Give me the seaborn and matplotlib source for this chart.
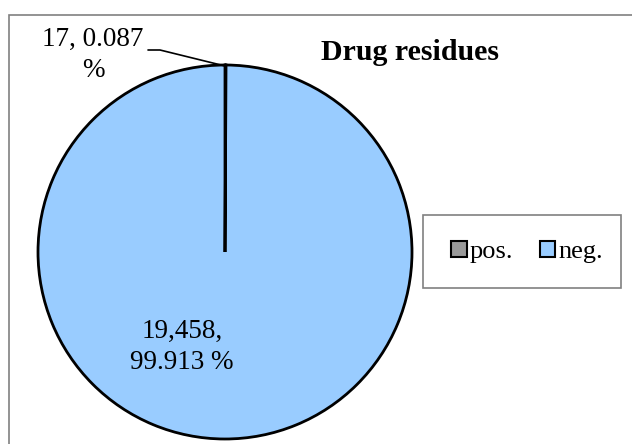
import matplotlib
matplotlib.use("Agg")
import matplotlib.pyplot as plt
from matplotlib.patches import Patch, Rectangle
import seaborn as sns

# Drug residue test results
categories = ["pos.", "neg."]
counts = [17, 19458]
percents = [0.087, 99.913]
colors = ["#999999", "#99CCFF"]

sns.set_theme(style="white")
plt.rcParams["font.family"] = ["Liberation Serif", "DejaVu Serif"]
plt.rcParams["text.color"] = "black"

W, H = 632, 444
fig = plt.figure(figsize=(W / 100, H / 100), dpi=100)

# outer chart frame
fig.patches.append(Rectangle((9 / W, -0.1), 1.2, (H - 15) / H + 0.1,
                             transform=fig.transFigure, fill=False,
                             edgecolor="#808080", linewidth=1.2))

cx, cy, r = 225, 252, 187
ax = fig.add_axes([(cx - r) / W, (H - cy - r) / H, 2 * r / W, 2 * r / H])

ax.pie(counts, colors=colors, startangle=90, counterclock=False, radius=1,
       wedgeprops=dict(edgecolor="black", linewidth=2))
ax.set_xlim(-1, 1)
ax.set_ylim(-1, 1)
ax.set_aspect("equal")
ax.axis("off")

def px(x, y):
    return (x - cx) / r, (cy - y) / r

labels = [f"{counts[0]:,}, {percents[0]:.3f}\n%",
          f"{counts[1]:,},\n{percents[1]:.3f} %"]

ax.text(*px(93, 55), labels[0], ha="center", va="center", fontsize=19.5,
        linespacing=1.35, clip_on=False)
ax.text(*px(182, 347), labels[1], ha="center", va="center", fontsize=19.5,
        linespacing=1.33, clip_on=False)

# leader line for the small slice
lx, ly = zip(px(148, 50), px(160, 50), px(225, 66))
ax.plot(lx, ly, color="black", linewidth=1.2, clip_on=False)

fig.text(410 / W, 1 - 52 / H, "Drug residues", ha="center", va="center",
         fontsize=21.5, fontweight="bold")

# legend box
fig.patches.append(Rectangle((423 / W, 1 - 288 / H), (621 - 423) / W, (288 - 215) / H,
                             transform=fig.transFigure, fill=True, facecolor="white",
                             edgecolor="#808080", linewidth=1.2))
handles = [Patch(facecolor=c, edgecolor="black", linewidth=1.5) for c in colors]
fig.legend(handles, categories, loc="center", ncol=2, frameon=False,
           bbox_to_anchor=(527 / W, 1 - 252 / H), fontsize=19,
           handlelength=0.6, handleheight=0.6, handletextpad=0.1,
           columnspacing=1.0)

fig.savefig("out.png", dpi=100)
